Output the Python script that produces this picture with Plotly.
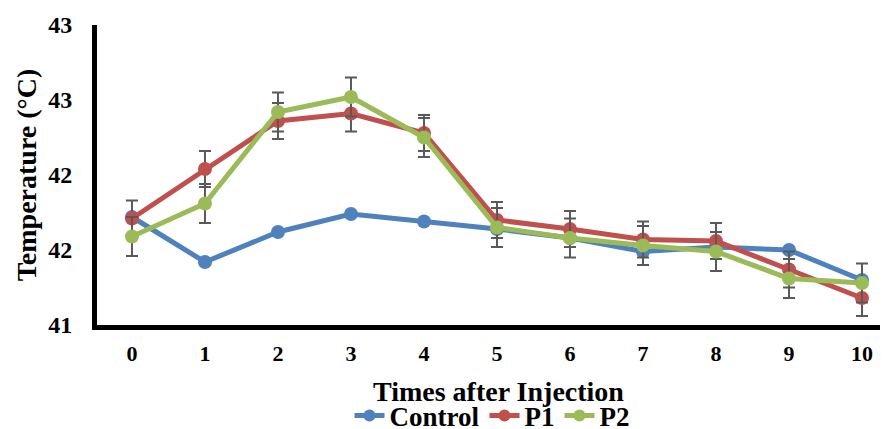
import plotly.graph_objects as go

times = [0, 1, 2, 3, 4, 5, 6, 7, 8, 9, 10]
control = [41.72, 41.42, 41.62, 41.74, 41.69, 41.64, 41.58, 41.49, 41.52, 41.50, 41.30]
p1 = [41.71, 42.04, 42.36, 42.41, 42.28, 41.70, 41.64, 41.57, 41.56, 41.37, 41.18]
p2 = [41.59, 41.81, 42.42, 42.52, 42.25, 41.65, 41.58, 41.53, 41.49, 41.31, 41.28]
p1_err = [0.12] * 11
p2_err = [0.13] * 11
y_tickvals = [41, 41.5, 42, 42.5, 43]
y_ticktext = ["41", "42", "42", "43", "43"]
x_title = "Times after Injection"
y_title = "Temperature (°C)"

font_family = "Liberation Serif, Times New Roman, serif"

fig = go.Figure()

def add_series(name, y, color, err=None):
    kw = {}
    if err is not None:
        kw["error_y"] = dict(type="data", array=err, visible=True,
                             color="#595959", thickness=2, width=6)
    fig.add_trace(go.Scatter(
        x=times, y=y, name=name, mode="lines+markers",
        line=dict(color=color, width=5),
        marker=dict(color=color, size=14),
        **kw))

add_series("Control", control, "#4F81BD")
add_series("P1", p1, "#C0504D", p1_err)
add_series("P2", p2, "#9BBB59", p2_err)

# page body has an 8px default margin; figure sized to fill the remaining window
fig.update_layout(
    width=880, height=421,
    margin=dict(l=89, r=0, t=17, b=104),
    paper_bgcolor="white", plot_bgcolor="white",
    font=dict(family=font_family, color="black"),
    showlegend=True,
    legend=dict(orientation="h", x=0.5, xanchor="center",
                yref="container", y=0.031, yanchor="middle",
                font=dict(size=27, family=font_family, color="black", weight="bold"),
                tracegroupgap=0, itemsizing="constant"),
    xaxis=dict(
        range=[-0.479, 10.356],
        tickvals=times, ticktext=[str(t) for t in times],
        showline=True, linewidth=5, linecolor="black",
        showgrid=False, zeroline=False, ticks="",
        automargin=False,
        ticklabelstandoff=5,
        tickfont=dict(size=22, family=font_family, color="black", weight="bold"),
    ),
    yaxis=dict(
        range=[41, 43],
        tickvals=y_tickvals, ticktext=y_ticktext,
        showline=True, linewidth=5, linecolor="black",
        showgrid=False, zeroline=False, ticks="",
        automargin=False,
        ticklabelstandoff=15,
        tickfont=dict(size=24, family=font_family, color="black", weight="bold"),
        title=dict(text=y_title, standoff=5,
                   font=dict(size=28, family=font_family, color="black", weight="bold")),
    ),
    annotations=[dict(
        text=x_title, xref="paper", yref="paper", x=0.507, y=-0.22,
        xanchor="center", yanchor="middle", showarrow=False,
        font=dict(size=28, family=font_family, color="black", weight="bold"),
    )],
)

fig.write_html("out.html")
